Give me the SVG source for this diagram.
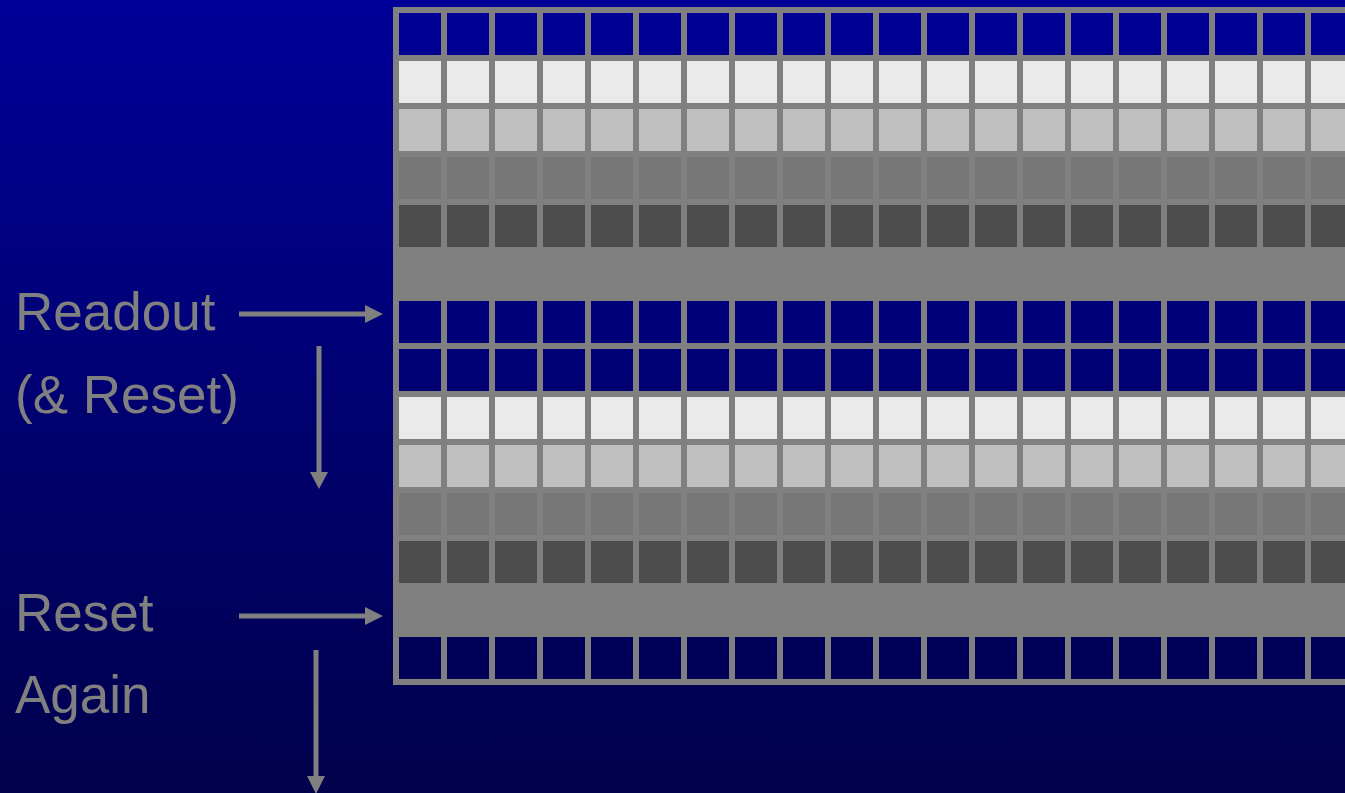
<svg xmlns="http://www.w3.org/2000/svg" width="1345" height="793" viewBox="0 0 1345 793">
<defs>
<linearGradient id="bg" gradientUnits="userSpaceOnUse" x1="0" y1="0" x2="0" y2="793">
<stop offset="0" stop-color="#000098"/>
<stop offset="1" stop-color="#00004B"/>
</linearGradient>
<pattern id="cellsBlue" patternUnits="userSpaceOnUse" x="399" y="0" width="48" height="793">
<rect x="0" y="0" width="42" height="793" fill="url(#bg)"/>
</pattern>
</defs>
<style>
.lbl{font-family:"Liberation Sans",Arial,sans-serif;font-size:53px;fill:#808080}
.conn{stroke:#808080;stroke-width:5;fill:none}
.head{fill:#808080}
</style>
<rect id="background" x="0" y="0" width="1345" height="793" fill="url(#bg)"/>
<g id="grid">
<rect x="393" y="7" width="960" height="678" fill="#808080"/>
<g id="rows">
<rect x="399" y="13" width="960" height="42" fill="url(#cellsBlue)"/>
<rect x="399" y="61" width="960" height="42" fill="#EAEAEA"/>
<rect x="399" y="109" width="960" height="42" fill="#C0C0C0"/>
<rect x="399" y="157" width="960" height="42" fill="#777777"/>
<rect x="399" y="205" width="960" height="42" fill="#4D4D4D"/>
<rect x="399" y="301" width="960" height="42" fill="url(#cellsBlue)"/>
<rect x="399" y="349" width="960" height="42" fill="url(#cellsBlue)"/>
<rect x="399" y="397" width="960" height="42" fill="#EAEAEA"/>
<rect x="399" y="445" width="960" height="42" fill="#C0C0C0"/>
<rect x="399" y="493" width="960" height="42" fill="#777777"/>
<rect x="399" y="541" width="960" height="42" fill="#4D4D4D"/>
<rect x="399" y="637" width="960" height="42" fill="url(#cellsBlue)"/>
</g>
<g id="colgaps" fill="#808080">
<rect x="441" y="13" width="6" height="666"/>
<rect x="489" y="13" width="6" height="666"/>
<rect x="537" y="13" width="6" height="666"/>
<rect x="585" y="13" width="6" height="666"/>
<rect x="633" y="13" width="6" height="666"/>
<rect x="681" y="13" width="6" height="666"/>
<rect x="729" y="13" width="6" height="666"/>
<rect x="777" y="13" width="6" height="666"/>
<rect x="825" y="13" width="6" height="666"/>
<rect x="873" y="13" width="6" height="666"/>
<rect x="921" y="13" width="6" height="666"/>
<rect x="969" y="13" width="6" height="666"/>
<rect x="1017" y="13" width="6" height="666"/>
<rect x="1065" y="13" width="6" height="666"/>
<rect x="1113" y="13" width="6" height="666"/>
<rect x="1161" y="13" width="6" height="666"/>
<rect x="1209" y="13" width="6" height="666"/>
<rect x="1257" y="13" width="6" height="666"/>
<rect x="1305" y="13" width="6" height="666"/>
</g>
</g>
<g id="label-readout"><text class="lbl" x="15" y="330">Readout</text></g>
<g id="label-reset1"><text class="lbl" x="15" y="413">(&amp; Reset)</text></g>
<g id="label-reset2"><text class="lbl" x="15" y="631">Reset</text></g>
<g id="label-again"><text class="lbl" x="15" y="713">Again</text></g>
<g id="connectors">
<line class="conn" x1="239" y1="314" x2="367" y2="314"/>
<polygon class="head" points="365,305 383,314 365,323"/>
<line class="conn" x1="319" y1="346" x2="319" y2="474"/>
<polygon class="head" points="310,472 328,472 319,489"/>
<line class="conn" x1="239" y1="616" x2="367" y2="616"/>
<polygon class="head" points="365,607 383,616 365,625"/>
<line class="conn" x1="316" y1="650" x2="316" y2="778"/>
<polygon class="head" points="307,776 325,776 316,794"/>
</g>
</svg>
